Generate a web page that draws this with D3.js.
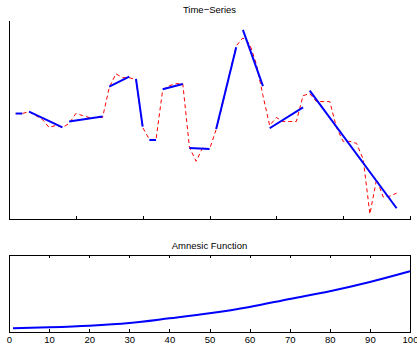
<!DOCTYPE html>
<html>
<head>
<meta charset="utf-8">
<script src="https://cdn.jsdelivr.net/npm/d3@7"></script>
<style>
  body { margin: 0; background: #fff; }
  svg text { font-family: "Liberation Sans", Arial, sans-serif; fill: #000; }
  .axis path, .axis line { stroke: #000; shape-rendering: crispEdges; }
</style>
</head>
<body>
<div id="chart"></div>
<script>
// time series, one value per sample (sample 1..58)
const seriesValues = [
  53, 53, 54, 52, 50, 46, 47, 46, 48, 53,
  52, 51, 51, 51, 66, 73, 71, 71, 70, 46,
  40, 40, 65, 67, 68, 68, 36, 29, 36, 35,
  45, 58, 73, 87, 91, 88, 78, 62, 47, 51,
  49, 49, 49, 62, 63, 59, 59, 59, 46, 39,
  39, 38, 30, 2.5, 20, 11, 11.5, 13
];

// piecewise linear approximation (segments)
const segStart = [1, 3, 9, 15, 19, 21, 23, 27, 31, 35, 39, 45];
const segEnd   = [2, 8, 14, 18, 20, 22, 26, 30, 34, 38, 44, 58];
const segFrom  = [53, 54, 49, 66.5, 70.4, 39.7, 65.2, 35.7, 45.2, 95, 45.6, 64.5];
const segTo    = [53, 46, 51.5, 71.5, 46.4, 39.7, 67.8, 35.2, 86.3, 66.8, 56.1, 5.4];

const topTicks = [0, 10, 20, 30, 40, 50, 60];

// amnesic function
const amnesicX = [1, 10, 20, 30, 40, 50, 60, 70, 80, 90, 100];
const amnesicY = [0.048, 0.061, 0.082, 0.117, 0.178, 0.243, 0.325, 0.429, 0.529, 0.649, 0.788];
const bottomTicks = [0, 10, 20, 30, 40, 50, 60, 70, 80, 90, 100];

const W = 417, H = 350;
const left = 9, right = 410;

const svg = d3.select('#chart')
  .append('svg')
  .attr('width', W)
  .attr('height', H);

// ---------- top: Time-Series ----------
const top1 = 20, bot1 = 219;
const x1 = d3.scaleLinear().domain([0, 60]).range([left, right]);
const y1 = d3.scaleLinear().domain([0, 100]).range([bot1, top1]);

const g1 = svg.append('g');

g1.append('g')
  .attr('class', 'axis')
  .attr('transform', `translate(0,${bot1})`)
  .call(d3.axisBottom(x1).tickValues(topTicks).tickSize(-3).tickSizeOuter(0).tickFormat(''));

g1.append('g')
  .attr('class', 'axis')
  .attr('transform', `translate(${left},0)`)
  .call(d3.axisLeft(y1).tickValues([]).tickSizeOuter(0));

const seriesLine = d3.line()
  .x((d, i) => x1(i + 1))
  .y(d => y1(d));

g1.append('path')
  .datum(seriesValues)
  .attr('fill', 'none')
  .attr('stroke', '#ff0000')
  .attr('stroke-width', 1)
  .attr('stroke-dasharray', '4,3')
  .attr('d', seriesLine);

const segLine = d3.line()
  .x(d => x1(d[0]))
  .y(d => y1(d[1]));

const segs = segStart.map((s, i) => [[s, segFrom[i]], [segEnd[i], segTo[i]]]);

g1.selectAll('.seg')
  .data(segs)
  .enter()
  .append('path')
  .attr('class', 'seg')
  .attr('fill', 'none')
  .attr('stroke', '#0000ff')
  .attr('stroke-width', 2)
  .attr('d', segLine);

g1.append('text')
  .attr('x', (left + right) / 2)
  .attr('y', 12.5)
  .attr('text-anchor', 'middle')
  .attr('font-size', '9.5px')
  .text('Time\u2212Series');

// ---------- bottom: Amnesic Function ----------
const top2 = 255, bot2 = 332;
const x2 = d3.scaleLinear().domain([0, 100]).range([left, right]);
const y2 = d3.scaleLinear().domain([0, 1]).range([bot2, top2]);

const g2 = svg.append('g');

g2.append('rect')
  .attr('x', left)
  .attr('y', top2)
  .attr('width', right - left)
  .attr('height', bot2 - top2)
  .attr('fill', 'none')
  .attr('stroke', '#000')
  .attr('shape-rendering', 'crispEdges');

const xAxis2 = g2.append('g')
  .attr('class', 'axis')
  .attr('transform', `translate(0,${bot2})`)
  .call(d3.axisBottom(x2).tickValues(bottomTicks).tickSize(-3).tickSizeOuter(0).tickPadding(4));

xAxis2.selectAll('text')
  .attr('font-size', '9.5px')
  .attr('font-family', '"Liberation Sans", Arial, sans-serif')
  .attr('fill', '#000');

g2.append('g')
  .attr('class', 'axis')
  .attr('transform', `translate(0,${top2})`)
  .call(d3.axisTop(x2).tickValues(bottomTicks).tickSize(-3).tickSizeOuter(0).tickFormat(''));

const amnesicLine = d3.line()
  .curve(d3.curveMonotoneX)
  .x(d => x2(d[0]))
  .y(d => y2(d[1]));

g2.append('path')
  .datum(amnesicX.map((v, i) => [v, amnesicY[i]]))
  .attr('fill', 'none')
  .attr('stroke', '#0000ff')
  .attr('stroke-width', 2)
  .attr('d', amnesicLine);

g2.append('text')
  .attr('x', (left + right) / 2)
  .attr('y', 249)
  .attr('text-anchor', 'middle')
  .attr('font-size', '9.5px')
  .text('Amnesic Function');
</script>
</body>
</html>
